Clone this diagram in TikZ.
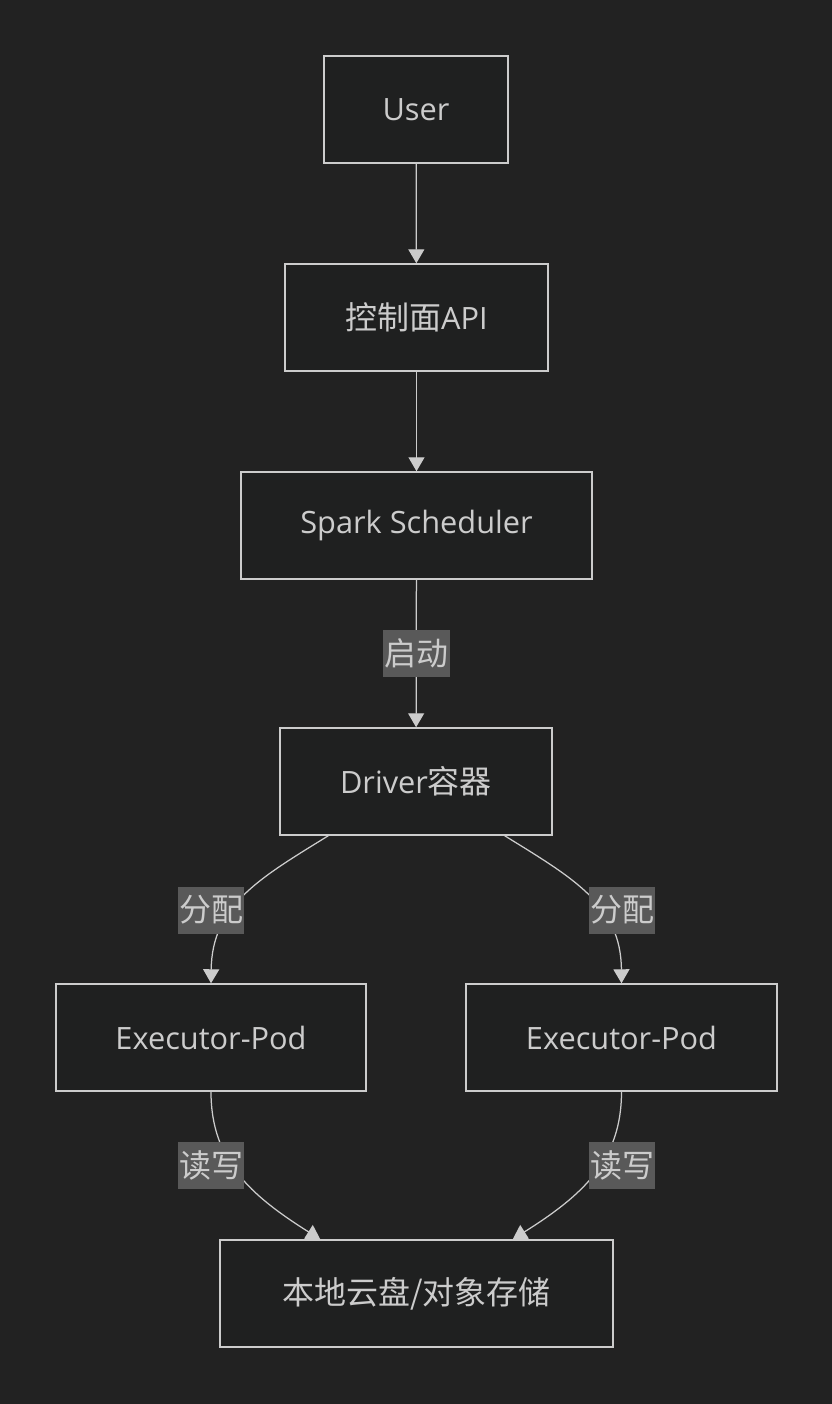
\documentclass[tikz,border=0pt]{standalone}
\usepackage{fontspec}
\setmainfont{Open Sans}
\newfontfamily\cjk[Scale=1.04]{Noto Sans CJK SC}
\usepackage{xcolor}
\usepackage{tikz}
\usetikzlibrary{arrows.meta,positioning,calc}
\definecolor{dkBg}{HTML}{222222}
\definecolor{dkFill}{HTML}{1F2020}
\definecolor{dkLine}{HTML}{CCCCCC}
\definecolor{dkText}{HTML}{CCCCCC}
\definecolor{dkLabel}{HTML}{595959}
\tikzset{
  % Flow box
  fbox/.style={rectangle,draw=dkLine,fill=dkFill,line width=0.03cm,
    minimum height=2.14cm,inner sep=0pt,align=center,
    font=\fontsize{17.5}{21}\selectfont,text=dkText},
  % Edge label
  elbl/.style={rectangle,fill=dkLabel,inner xsep=0.03cm,inner ysep=0pt,
    minimum height=0.94cm,font=\fontsize{17.5}{21}\selectfont,text=dkText},
  % Arrows
  arr/.style={-{Triangle[width=0.32cm,length=0.28cm]},line width=0.025cm,color=dkLine},
}
\begin{document}
\begin{tikzpicture}[x=0.02cm,y=-0.02cm]
  \fill[dkBg] (0,0) rectangle (832,1404);
  \useasboundingbox (0,0) rectangle (832,1404);

  % Boxes
  \node[fbox,minimum width=3.68cm] (user) at (416,109.5) {User};
  \node[fbox,minimum width=5.26cm] (api) at (416.5,317.5) {{\cjk 控制面}API};
  \node[fbox,minimum width=7.02cm] (sched) at (416.5,525.5) {Spark Scheduler};
  \node[fbox,minimum width=5.44cm] (driver) at (416,781.5) {Driver{\cjk 容器}};
  \node[fbox,minimum width=6.20cm] (execL) at (211,1037.5) {Executor-Pod};
  \node[fbox,minimum width=6.22cm] (execR) at (621.5,1037.5) {Executor-Pod};
  \node[fbox,minimum width=7.86cm] (store) at (416.5,1293.5) {\cjk 本地云盘/对象存储};

  % Straight edges
  \draw[arr] (user) -- (api);
  \draw[arr] (api) -- (sched);
  \draw[arr] (sched) -- node[elbl] (lStart) {\cjk 启动} (driver);

  % Driver to executors
  \draw[arr] ($(driver.south west)+(49,0)$) .. controls (260,878) and (212,905) .. (execL.north);
  \draw[arr] ($(driver.south east)+(-48,0)$) .. controls (573,878) and (621,905) .. (execR.north);
  \node[elbl] (lAllocL) at (211,910) {\cjk 分配};
  \node[elbl] (lAllocR) at (622,910) {\cjk 分配};

  % Executors to storage
  \draw[arr] (execL.south) .. controls (211,1160) and (250,1195) .. ($(store.north west)+(101,0)$);
  \draw[arr] (execR.south) .. controls (621.5,1160) and (583,1195) .. ($(store.north east)+(-101,0)$);
  \node[elbl] (lRwL) at (211,1165) {\cjk 读写};
  \node[elbl] (lRwR) at (622,1165) {\cjk 读写};
\end{tikzpicture}
\end{document}
